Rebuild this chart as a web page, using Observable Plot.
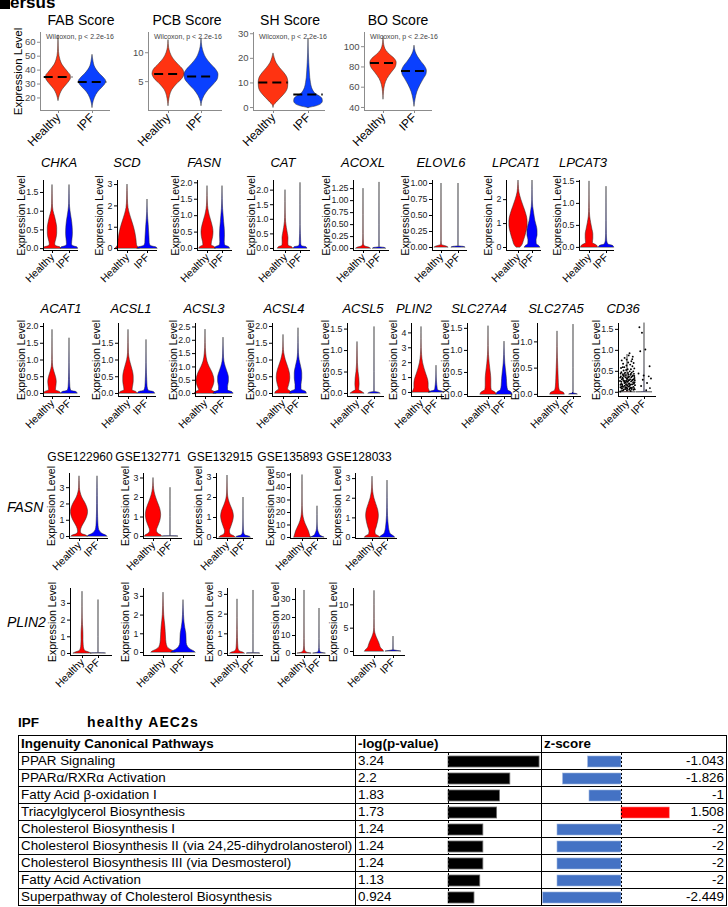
<!DOCTYPE html>
<html><head><meta charset="utf-8">
<script src="https://cdn.jsdelivr.net/npm/d3@7"></script>
<script src="https://cdn.jsdelivr.net/npm/@observablehq/plot@0.6"></script>
<style>
body{margin:0;background:#fff;}
#page{position:relative;width:728px;height:907px;overflow:hidden;font-family:"Liberation Sans",Arial,sans-serif;color:#000;background:#fff;}
.abs{position:absolute;white-space:nowrap;}
.pl{position:absolute;}
.hl{position:absolute;height:1px;background:#000;}
.vl{position:absolute;width:1px;background:#000;}
</style></head>
<body><div id="page"></div>
<script>
// ---------------- DATA ----------------
const groups = ["Healthy", "IPF"];
const wilcoxonLabel = "Wilcoxon, p < 2.2e-16";

// Score row: violin profiles [value, relative half-width] for [Healthy, IPF]
const scoreTitles = ["FAB Score", "PCB Score", "SH Score", "BO Score"];
const FAB = [
  [[18,0],[20,0.04],[23,0.12],[26,0.25],[29,0.45],[32,0.65],[34,0.73],[36,0.72],[38,0.6],[41,0.4],[44,0.22],[47,0.12],[50,0.06],[53,0.03],[57,0.015],[65,0]],
  [[13,0],[16,0.04],[20,0.14],[24,0.32],[27,0.55],[30,0.76],[32,0.8],[34,0.7],[37,0.45],[40,0.25],[43,0.12],[46,0.06],[49,0.02],[51,0]]
];
const PCB = [
  [[0.8,0],[1.5,0.03],[2.5,0.09],[3.5,0.22],[4.5,0.5],[5.5,0.85],[6.3,0.97],[7,0.9],[8,0.58],[9,0.28],[10,0.11],[10.8,0.04],[11.5,0.015],[12.2,0]],
  [[0.8,0],[1.5,0.04],[2.5,0.18],[3.5,0.42],[4.5,0.75],[5.5,1.0],[6.2,1.03],[7,0.9],[8,0.58],[9,0.3],[10,0.14],[11,0.05],[12.5,0]]
];
const SH = [
  [[0,0],[1,0.05],[2,0.18],[4,0.45],[6,0.7],[8,0.83],[10,0.85],[12,0.8],[14,0.62],[16,0.38],[18,0.18],[20,0.07],[22,0]],
  [[-0.2,0],[0.5,0.45],[1.5,0.75],[2.5,0.82],[3.5,0.8],[4.5,0.65],[5.5,0.42],[6.5,0.3],[8,0.2],[10,0.14],[12,0.1],[15,0.07],[18,0.045],[22,0.02],[28,0]]
];
const BO = [
  [[48,0],[55,0.03],[62,0.1],[68,0.25],[74,0.52],[80,0.8],[84,0.85],[88,0.72],[92,0.42],[96,0.18],[100,0.07],[104,0.025],[110,0]],
  [[41,0],[48,0.07],[55,0.18],[62,0.38],[68,0.6],[73,0.78],[76,0.8],[80,0.7],[85,0.45],[90,0.22],[95,0.07],[101,0]]
];
const scoreMedians = [[35, 31.5], [6.3, 5.9], [10.2, 5.3], [84, 76]];
const scoreDomains = [[11, 67], [0, 13.5], [-1.2, 30.5], [37, 114]];
const scoreTicks = [[20,30,40,50,60], [5,10], [0,10,20,30], [40,60,80,100]];

// Gene row 1
const row1Genes = ["CHKA","SCD","FASN","CAT","ACOXL","ELOVL6","LPCAT1","LPCAT3"];
const CHKA = [
  [[0,1],[0.03,0.95],[0.07,0.4],[0.12,0.32],[0.25,0.45],[0.4,0.55],[0.55,0.55],[0.7,0.45],[0.85,0.3],[1.0,0.12],[1.2,0.04],[1.45,0.02],[1.7,0]],
  [[0,1],[0.03,0.95],[0.07,0.4],[0.12,0.3],[0.25,0.35],[0.4,0.4],[0.55,0.38],[0.7,0.32],[0.85,0.22],[1.0,0.12],[1.2,0.04],[1.45,0.02],[1.7,0]]
];
const SCD = [
  [[0,1.2],[0.05,1.1],[0.15,0.95],[0.4,0.9],[0.7,0.8],[1.0,0.65],[1.3,0.45],[1.6,0.25],[1.9,0.1],[2.3,0.04],[2.7,0.02],[3.0,0]],
  [[0,1.0],[0.05,0.9],[0.12,0.35],[0.25,0.22],[0.5,0.2],[0.8,0.16],[1.1,0.12],[1.4,0.07],[1.7,0.03],[2.3,0]]
];
const FASN = [
  [[0,1.1],[0.04,1.0],[0.1,0.55],[0.2,0.6],[0.35,0.75],[0.5,0.8],[0.65,0.72],[0.8,0.55],[1.0,0.3],[1.2,0.12],[1.4,0.05],[1.6,0.02],[1.9,0]],
  [[0,1.0],[0.04,0.9],[0.1,0.35],[0.2,0.3],[0.4,0.33],[0.6,0.3],[0.8,0.22],[1.0,0.15],[1.2,0.08],[1.5,0.03],[1.9,0]]
];
const CAT = [
  [[0,1.0],[0.04,0.9],[0.1,0.4],[0.2,0.38],[0.35,0.4],[0.5,0.32],[0.7,0.18],[0.9,0.08],[1.2,0.03],[1.6,0.01],[2.0,0]],
  [[0,0.9],[0.04,0.8],[0.08,0.2],[0.15,0.1],[0.3,0.08],[0.5,0.05],[0.8,0.02],[1.5,0.01],[2.25,0]]
];
const ACOXL = [
  [[0,0.9],[0.02,0.7],[0.05,0.15],[0.1,0.05],[0.3,0.02],[0.7,0.01],[1.25,0]],
  [[0,0.8],[0.015,0.6],[0.03,0.02],[0.5,0.01],[1.38,0]]
];
const ELOVL6 = [
  [[0,0.8],[0.015,0.6],[0.04,0.05],[0.1,0.02],[0.5,0.01],[1.0,0]],
  [[0,0.8],[0.01,0.6],[0.02,0.01],[0.5,0.005],[1.0,0]]
];
const LPCAT1 = [
  [[0,0.3],[0.05,0.45],[0.3,0.8],[0.6,1.1],[0.9,1.3],[1.1,1.3],[1.4,1.1],[1.7,0.75],[2.0,0.4],[2.3,0.13],[2.6,0.04],[2.8,0]],
  [[0,1.1],[0.05,1.0],[0.15,0.6],[0.3,0.58],[0.5,0.72],[0.7,0.72],[0.9,0.6],[1.1,0.42],[1.4,0.25],[1.7,0.1],[2.0,0.04],[2.4,0.02],[2.8,0]]
];
const LPCAT3 = [
  [[0,1.0],[0.04,0.9],[0.1,0.4],[0.2,0.45],[0.3,0.45],[0.4,0.35],[0.55,0.2],[0.7,0.08],[0.9,0.03],[1.2,0.01],[1.5,0]],
  [[0,0.9],[0.03,0.8],[0.07,0.2],[0.15,0.08],[0.3,0.04],[0.6,0.02],[1.0,0.01],[1.38,0]]
];
const row1Domains = [[-0.05,1.82],[-0.09,3.19],[-0.06,2.07],[-0.07,2.33],[-0.04,1.42],[-0.047,1.047],[-0.125,2.8],[-0.07,1.52]];
const row1Ticks = [[0,0.5,1,1.5],[0,1,2,3],[0,0.5,1,1.5,2],[0,0.5,1,1.5,2],[0,0.25,0.5,0.75,1,1.25],[0,0.25,0.5,0.75,1],[0,1,2],[0,0.5,1,1.5]];

// Gene row 2
const row2Genes = ["ACAT1","ACSL1","ACSL3","ACSL4","ACSL5","PLIN2","SLC27A4","SLC27A5","CD36"];
const ACAT1 = [
  [[0,1.0],[0.04,0.9],[0.1,0.4],[0.2,0.45],[0.35,0.5],[0.5,0.4],[0.65,0.22],[0.8,0.08],[1.0,0.03],[1.4,0.01],[1.9,0]],
  [[0,0.95],[0.04,0.85],[0.08,0.2],[0.2,0.1],[0.4,0.06],[0.6,0.04],[0.9,0.02],[1.65,0]]
];
const ACSL1 = [
  [[0,1.0],[0.04,0.9],[0.1,0.45],[0.2,0.5],[0.35,0.58],[0.5,0.58],[0.65,0.5],[0.8,0.35],[1.0,0.15],[1.2,0.05],[1.5,0.02],[1.9,0]],
  [[0,0.95],[0.04,0.85],[0.08,0.25],[0.2,0.12],[0.4,0.08],[0.6,0.05],[0.9,0.02],[1.6,0]]
];
const ACSL3 = [
  [[0,1.2],[0.05,1.1],[0.12,0.7],[0.25,0.85],[0.45,1.0],[0.6,0.95],[0.8,0.75],[1.0,0.45],[1.2,0.22],[1.5,0.08],[1.9,0.02],[2.4,0]],
  [[0,1.1],[0.05,1.0],[0.12,0.5],[0.25,0.5],[0.45,0.6],[0.6,0.6],[0.8,0.45],[1.0,0.25],[1.2,0.1],[1.5,0.04],[2.1,0]]
];
const ACSL4 = [
  [[0,1.1],[0.05,1.0],[0.12,0.6],[0.25,0.75],[0.45,0.9],[0.6,0.85],[0.8,0.6],[1.0,0.3],[1.2,0.1],[1.4,0.03],[1.75,0]],
  [[0,1.1],[0.05,1.0],[0.12,0.4],[0.25,0.4],[0.45,0.5],[0.6,0.5],[0.8,0.35],[1.0,0.15],[1.2,0.06],[1.5,0.02],[1.95,0]]
];
const ACSL5 = [
  [[0,0.8],[0.03,0.6],[0.08,0.2],[0.2,0.25],[0.35,0.22],[0.5,0.12],[0.7,0.05],[1.0,0.02],[1.2,0]],
  [[0,0.7],[0.02,0.5],[0.04,0.02],[0.5,0.01],[1.55,0]]
];
const PLIN2 = [
  [[0,1.2],[0.1,1.1],[0.3,0.95],[0.6,0.95],[0.9,0.85],[1.2,0.65],[1.6,0.4],[2.0,0.2],[2.5,0.08],[3.0,0.03],[3.6,0.01],[4.4,0]],
  [[0,1.0],[0.05,0.8],[0.15,0.2],[0.3,0.15],[0.5,0.1],[0.8,0.05],[1.2,0.02],[1.8,0]]
];
const SLC27A4 = [
  [[0,1.0],[0.04,0.9],[0.1,0.4],[0.2,0.35],[0.35,0.35],[0.5,0.28],[0.7,0.15],[0.9,0.06],[1.1,0.02],[1.55,0]],
  [[0,1.0],[0.04,0.9],[0.1,0.45],[0.2,0.35],[0.35,0.3],[0.5,0.22],[0.7,0.1],[0.9,0.04],[1.2,0]]
];
const SLC27A5 = [
  [[0,0.9],[0.03,0.8],[0.07,0.3],[0.15,0.2],[0.3,0.15],[0.5,0.1],[0.7,0.05],[0.9,0.02],[1.2,0]],
  [[0,0.5],[0.01,0.3],[0.02,0.01],[0.5,0.005],[1.33,0]]
];
const CD36 = [
  [[0,0.95],[0.005,0.02],[0.1,0.01],[0.9,0]],
  [[0,0.9],[0.005,0.02],[0.1,0.01],[1.65,0]]
];
// CD36 jittered cells: [offset from group, expression]
const cd36HealthyCells = [
[-0.41,0.12],[-0.33,0.31],[-0.25,0.05],[-0.18,0.22],[-0.1,0.41],[-0.02,0.17],[0.06,0.28],[0.14,0.09],[0.22,0.36],[0.3,0.19],[0.38,0.44],[0.43,0.07],
[-0.44,0.27],[-0.36,0.48],[-0.29,0.15],[-0.21,0.39],[-0.13,0.08],[-0.05,0.33],[0.03,0.46],[0.11,0.21],[0.19,0.03],[0.27,0.29],[0.35,0.13],[0.41,0.34],
[-0.39,0.38],[-0.31,0.19],[-0.23,0.52],[-0.15,0.27],[-0.07,0.11],[0.01,0.55],[0.09,0.37],[0.17,0.18],[0.25,0.47],[0.33,0.24],[0.4,0.57],[-0.42,0.02],
[-0.35,0.09],[-0.27,0.43],[-0.19,0.6],[-0.11,0.23],[-0.03,0.05],[0.05,0.14],[0.13,0.5],[0.21,0.26],[0.29,0.62],[0.37,0.31],[0.44,0.17],[-0.38,0.58],
[-0.3,0.35],[-0.22,0.13],[-0.14,0.47],[-0.06,0.64],[0.02,0.25],[0.1,0.06],[0.18,0.42],[0.26,0.11],[0.34,0.5],[0.42,0.24],[-0.4,0.45],[-0.32,0.04],
[-0.24,0.29],[-0.16,0.16],[-0.08,0.53],[0,0.32],[0.08,0.2],[0.16,0.66],[0.24,0.08],[0.32,0.4],[0.39,0.1],[-0.37,0.2],[-0.26,0.68],[-0.12,0.36],
[0.04,0.71],[0.2,0.55],[0.36,0.7],[-0.34,0.76],[-0.17,0.82],[0.07,0.88],[0.28,0.79],[0.12,0.93],[-0.28,0.6],[0.23,0.74],[-0.05,0.78],[0.31,0.85],
[-0.2,0.26],[0.15,0.31],[-0.43,0.35],[0.38,0.21],[-0.09,0.19],[0.27,0.38],[-0.33,0.14],[0.06,0.42],
[-0.36,0.25],[-0.27,0.33],[-0.17,0.44],[-0.07,0.27],[0.04,0.36],[0.12,0.15],[0.2,0.44],[0.31,0.3],[0.4,0.39],[-0.41,0.18],
[-0.31,0.1],[-0.21,0.07],[-0.12,0.12],[-0.01,0.09],[0.09,0.29],[0.17,0.11],[0.26,0.19],[0.35,0.06],[0.43,0.29],[-0.25,0.4]
];
const cd36IPFCells = [[-0.3,1.55],[-0.15,1.42],[0.05,1.02],[-0.25,0.98],[0.3,0.62],[-0.35,0.45],[0.25,0.38],[0.38,0.33],[-0.1,0.3],[0.15,0.22],[-0.2,0.15],[0.32,0.1],[-0.05,0.4],[0.1,0.05]];
const row2Domains = [[-0.09,2.09],[-0.09,2.09],[-0.11,2.63],[-0.09,2.09],[-0.07,1.63],[-0.27,4.63],[-0.045,1.61],[-0.04,1.35],[-0.1,1.64]];
const row2Ticks = [[0,0.5,1,1.5,2],[0,0.5,1,1.5],[0,0.5,1,1.5,2,2.5],[0,0.5,1,1.5,2],[0,0.5,1,1.5],[0,1,2,3,4],[0,0.5,1,1.5],[0,0.5,1],[0,0.5,1,1.5]];

// Datasets rows
const datasets = ["GSE122960","GSE132771","GSE132915","GSE135893","GSE128033"];
const datasetGenes = ["FASN","PLIN2"];
const FASN_GSE122960 = [
  [[0,0.9],[0.05,0.8],[0.15,0.3],[0.3,0.15],[0.6,0.3],[0.9,0.6],[1.2,0.85],[1.5,0.95],[1.8,0.85],[2.1,0.6],[2.4,0.3],[2.7,0.12],[3.0,0.04],[3.4,0.02],[3.7,0]],
  [[0,1.1],[0.05,1.0],[0.15,0.6],[0.3,0.3],[0.5,0.15],[0.8,0.1],[1.2,0.07],[1.6,0.05],[2.0,0.04],[2.5,0.03],[3.0,0.02],[3.7,0]]
];
const FASN_GSE132771 = [
  [[0,1.0],[0.05,0.95],[0.15,0.55],[0.3,0.4],[0.5,0.55],[0.8,0.8],[1.1,0.9],[1.4,0.8],[1.7,0.55],[2.0,0.3],[2.3,0.12],[2.6,0.04],[3.0,0]],
  [[0,0.9],[0.01,0.5],[0.02,0.01],[1.0,0.005],[2.5,0]]
];
const FASN_GSE132915 = [
  [[0,1.0],[0.05,0.9],[0.15,0.4],[0.3,0.3],[0.5,0.45],[0.8,0.7],[1.05,0.8],[1.3,0.7],[1.6,0.4],[1.9,0.15],[2.2,0.05],[2.6,0.02],[3.1,0]],
  [[0,0.9],[0.04,0.8],[0.1,0.25],[0.2,0.1],[0.4,0.05],[0.8,0.02],[1.2,0.01],[2.0,0]]
];
const FASN_GSE135893 = [
  [[0,1.1],[1,1.05],[3,0.95],[5,0.85],[7,0.7],[9,0.55],[11,0.4],[13,0.28],[16,0.15],[20,0.07],[25,0.03],[32,0.015],[40,0.01],[50,0]],
  [[0,0.9],[0.5,0.7],[1.5,0.4],[3,0.25],[5,0.12],[8,0.05],[12,0.02],[18,0.01],[25,0]]
];
const FASN_GSE128033 = [
  [[0,1.0],[0.05,0.9],[0.15,0.45],[0.3,0.4],[0.5,0.55],[0.8,0.75],[1.1,0.85],[1.4,0.75],[1.7,0.5],[2.0,0.25],[2.3,0.1],[2.7,0.03],[3.1,0]],
  [[0,1.0],[0.05,0.9],[0.15,0.5],[0.3,0.3],[0.5,0.2],[0.8,0.12],[1.1,0.07],[1.5,0.04],[2.0,0.02],[2.9,0]]
];
const PLIN2_GSE122960 = [
  [[0,1.1],[0.05,0.9],[0.15,0.35],[0.3,0.2],[0.5,0.15],[0.8,0.12],[1.1,0.12],[1.4,0.1],[1.7,0.06],[2.1,0.03],[2.8,0.01],[3.7,0]],
  [[0,0.9],[0.01,0.6],[0.02,0.01],[1.0,0.005],[3.2,0]]
];
const PLIN2_GSE132771 = [
  [[0,1.2],[0.05,1.1],[0.15,0.7],[0.3,0.4],[0.5,0.3],[0.8,0.25],[1.1,0.22],[1.4,0.18],[1.7,0.12],[2.0,0.07],[2.5,0.03],[3.2,0]],
  [[0,1.2],[0.05,1.1],[0.15,0.75],[0.3,0.45],[0.5,0.32],[0.8,0.3],[1.0,0.28],[1.3,0.18],[1.6,0.1],[2.0,0.05],[2.4,0.02],[2.8,0]]
];
const PLIN2_GSE132915 = [
  [[0,0.9],[0.05,0.7],[0.12,0.25],[0.25,0.12],[0.5,0.08],[0.8,0.05],[1.2,0.03],[1.8,0.01],[2.75,0]],
  [[0,0.8],[0.01,0.6],[0.02,0.01],[1.0,0.005],[3.2,0]]
];
const PLIN2_GSE135893 = [
  [[0,0.9],[0.3,0.5],[1,0.2],[2,0.08],[4,0.04],[8,0.02],[15,0.01],[35,0]],
  [[0,0.8],[0.3,0.4],[1,0.1],[3,0.03],[8,0.01],[25,0]]
];
const PLIN2_GSE128033 = [
  [[0,1.0],[0.3,0.9],[0.7,0.7],[1.2,0.6],[1.8,0.5],[2.5,0.35],[3.2,0.2],[4,0.08],[5,0.03],[7,0.015],[10,0.008],[13,0]],
  [[0,0.8],[0.1,0.5],[0.3,0.02],[1.5,0.01],[3.2,0]]
];
const fasnDomains = [[-0.12,3.87],[-0.1,3.23],[-0.05,3.2],[-0.81,51.2],[-0.05,3.26]];
const fasnTicks = [[0,1,2,3],[0,1,2,3],[0,1,2,3],[0,10,20,30,40,50],[0,1,2,3]];
const plin2Domains = [[-0.12,3.89],[-0.16,3.42],[-0.1,3.3],[-1.1,36.1],[-0.86,13.5]];
const plin2Ticks = [[0,1,2,3],[0,1,2,3],[0,1,2,3],[0,10,20,30],[0,5,10]];

// Table (IPA)
const tableTitle = ["IPF", "healthy AEC2s"];
const tableHeaders = ["Ingenuity Canonical Pathways", "-log(p-value)", "z-score"];
const pathways = ["PPAR Signaling","PPARα/RXRα Activation","Fatty Acid β-oxidation I","Triacylglycerol Biosynthesis","Cholesterol Biosynthesis I","Cholesterol Biosynthesis II (via 24,25-dihydrolanosterol)","Cholesterol Biosynthesis III (via Desmosterol)","Fatty Acid Activation","Superpathway of Cholesterol Biosynthesis"];
const logP = [3.24, 2.2, 1.83, 1.73, 1.24, 1.24, 1.24, 1.13, 0.924];
const zScores = [-1.043, -1.826, -1, 1.508, -2, -2, -2, -2, -2.449];

// ---------------- LAYOUT ----------------
const page = document.getElementById("page");
const FONT = "Liberation Sans, Arial, sans-serif";

function addText(str, x, baseline, o = {}) {
  const size = o.size || 12;
  const d = document.createElement("div");
  d.className = "abs";
  d.textContent = str;
  Object.assign(d.style, {
    left: x + "px", top: (baseline - 0.8465 * size) + "px", fontSize: size + "px", lineHeight: size + "px",
    fontStyle: o.italic ? "italic" : "normal", fontWeight: o.bold ? "bold" : "normal", color: o.color || "#000"
  });
  if (o.spacing) d.style.letterSpacing = o.spacing + "px";
  if (o.anchor === "middle") d.style.transform = "translateX(-50%)";
  if (o.anchor === "end") d.style.transform = "translateX(-100%)";
  page.appendChild(d);
  return d;
}

function decimals(ticks) {
  return d3.max(ticks, t => { const s = String(t); const i = s.indexOf("."); return i < 0 ? 0 : s.length - i - 1; });
}

function violinPanel(cfg) {
  const [ax, c1, c2, end] = cfg.geom;
  const [top, bottom] = cfg.yr;
  const k = c2 - c1;
  const xdom = [1 - (c1 - ax) / k, 2 + (end - c2) / k];
  const ml = 40, mr = 6, mt = 6, mb = 50;
  const score = cfg.kind === "score";
  const axisColor = score ? "#8c8c8c" : "#000";
  const tickText = score ? "#4d4d4d" : "#1a1a1a";
  const tickFont = score ? 9.5 : 8.8;
  const fmt = d3.format(`.${decimals(cfg.ticks)}f`);
  // label offset from the widest tick label
  const widest = d3.max(cfg.ticks, t => { const s = fmt(t); return (s.replace(".", "").length * 0.556 + (s.includes(".") ? 0.278 : 0)) * tickFont; });
  const labelOff = score ? 22 : Math.max(18, 5 + widest + 5);
  const marks = [];
  cfg.prof.forEach((p, i) => {
    const c = i + 1;
    const rows = p.map(([v, w]) => ({v, w}));
    marks.push(Plot.areaX(rows, {
      y: "v", x1: d => c - d.w * 0.5, x2: d => c + d.w * 0.5,
      fill: cfg.colors[i], stroke: "#262626", strokeWidth: 0.5, curve: "monotone-y"
    }));
  });
  if (cfg.points) {
    cfg.points.forEach((pts, i) => {
      marks.push(Plot.dot(pts, {x: d => i + 1 + d[0], y: d => d[1], r: 0.95, fill: "#000"}));
    });
  }
  if (cfg.medians) {
    const med = cfg.medians.map((m, i) => ({m, c: i + 1}));
    marks.push(Plot.ruleY(med, {y: "m", x1: d => d.c - 0.42, x2: d => d.c + 0.42, stroke: "#000", strokeWidth: 2, strokeDasharray: "9,5"}));
  }
  marks.push(Plot.ruleX([xdom[0]], {y1: cfg.dom[0], y2: cfg.dom[1], stroke: axisColor, strokeWidth: 1}));
  marks.push(Plot.ruleY([cfg.dom[0]], {x1: xdom[0], x2: xdom[1], stroke: axisColor, strokeWidth: 1}));
  marks.push(Plot.axisY({ticks: cfg.ticks, tickFormat: fmt, tickSize: 3, tickPadding: 2, label: null,
    stroke: axisColor, fill: tickText, fontSize: tickFont}));
  marks.push(Plot.axisX({ticks: [1, 2], tickFormat: d => groups[d - 1], tickRotate: -45, tickSize: 3, tickPadding: 2,
    label: null, stroke: axisColor, fill: "#000", fontSize: score ? 12 : 10.5}));
  if (cfg.ylabel) {
    marks.push(Plot.text(["Expression Level"], {frameAnchor: "left", textAnchor: "middle", rotate: -90, dx: -labelOff,
      fontSize: score ? 11.5 : 10.5, fill: "#000"}));
  }
  const svg = Plot.plot({
    width: end - ax + ml + mr, height: bottom - top + mt + mb,
    marginLeft: ml, marginRight: mr, marginTop: mt, marginBottom: mb,
    x: {domain: xdom}, y: {domain: cfg.dom},
    style: {fontFamily: FONT, fontSize: "9.5px", background: "transparent", overflow: "visible"},
    marks
  });
  const wrap = document.createElement("div");
  wrap.className = "pl";
  wrap.style.left = (ax - ml) + "px";
  wrap.style.top = (top - mt) + "px";
  wrap.appendChild(svg);
  page.appendChild(wrap);
}

// header fragment
const blk = document.createElement("div");
Object.assign(blk.style, {position: "absolute", left: "0px", top: "0px", width: "10px", height: "9px", background: "#000"});
page.appendChild(blk);
addText("ersus", 10, 8, {size: 17, bold: true});

// --- Score row
const scoreGeom = [[40,58,92,110],[148,168,201,222],[253,273,308,325],[364,383,414,432]];
const scoreTitleX = [81, 187, 290, 398];
const scoreProf = [FAB, PCB, SH, BO];
scoreTitles.forEach((t, i) => {
  addText(t, scoreTitleX[i], 25, {size: 14, anchor: "middle"});
  violinPanel({geom: scoreGeom[i], yr: [32, 110], dom: scoreDomains[i], ticks: scoreTicks[i], prof: scoreProf[i],
    colors: ["#FF3311", "#0A40FF"], medians: scoreMedians[i], kind: "score", ylabel: i === 0});
  addText(wilcoxonLabel, scoreGeom[i][0] + 6, 38.5, {size: 7, color: "#444"});
});

// --- Gene row 1
const row1Geom = [[43,52,69,78],[117,127,147,157],[197,207,222,232],[273,285,300,310],[353,363,379,389],[432,441,458,467],[506,518,532,541],[579,589,606,614]];
const row1TitleX = [59,127,204,283,363,441,516,583];
const row1Prof = [CHKA, SCD, FASN, CAT, ACOXL, ELOVL6, LPCAT1, LPCAT3];
row1Genes.forEach((g, i) => {
  addText(g, row1TitleX[i], 167, {size: 13, italic: true, anchor: "middle"});
  violinPanel({geom: row1Geom[i], yr: [180, 250], dom: row1Domains[i], ticks: row1Ticks[i], prof: row1Prof[i],
    colors: ["#FF0000", "#0000FF"], kind: "gene", ylabel: true});
});

// --- Gene row 2
const row2Geom = [[43,52,69,80],[118,128,146,156],[195,205,223,232],[272,283,298,308],[347,357,374,384],[411,421,436,444],[467,488,504,511],[537,557,573,581],[618,627,644,656]];
const row2TitleX = [61,131,204,284,363,414,479,556,623];
const row2Prof = [ACAT1, ACSL1, ACSL3, ACSL4, ACSL5, PLIN2, SLC27A4, SLC27A5, CD36];
row2Genes.forEach((g, i) => {
  addText(g, row2TitleX[i], 313, {size: 13, italic: true, anchor: "middle"});
  violinPanel({geom: row2Geom[i], yr: [323, 396], dom: row2Domains[i], ticks: row2Ticks[i], prof: row2Prof[i],
    colors: ["#FF0000", "#0000FF"], kind: "gene", ylabel: true,
    points: g === "CD36" ? [cd36HealthyCells, cd36IPFCells] : null});
});

// --- Dataset rows
const dsTitleX = [80, 148, 220, 290, 359];
datasets.forEach((d, i) => addText(d, dsTitleX[i], 461, {size: 12, anchor: "middle"}));
addText(datasetGenes[0], 7, 512, {size: 14, italic: true});
addText(datasetGenes[1], 7, 627, {size: 14, italic: true});
const fasnGeom = [[69,79,97,108],[143,153,170,182],[216,227,243,253],[290,302,317,327],[355,372,387,397]];
const plinGeom = [[70,82,98,112],[143,163,183,195],[227,237,253,263],[295,304,319,330],[353,374,393,405]];
const fasnProf = [FASN_GSE122960, FASN_GSE132771, FASN_GSE132915, FASN_GSE135893, FASN_GSE128033];
const plinProf = [PLIN2_GSE122960, PLIN2_GSE132771, PLIN2_GSE132915, PLIN2_GSE135893, PLIN2_GSE128033];
datasets.forEach((d, i) => {
  violinPanel({geom: fasnGeom[i], yr: [473, 538], dom: fasnDomains[i], ticks: fasnTicks[i], prof: fasnProf[i],
    colors: ["#FF0000", "#0000FF"], kind: "gene", ylabel: true});
  violinPanel({geom: plinGeom[i], yr: [588, 655], dom: plin2Domains[i], ticks: plin2Ticks[i], prof: plinProf[i],
    colors: ["#FF0000", "#0000FF"], kind: "gene", ylabel: true});
});

// --- Table
addText(tableTitle[0], 18, 727, {size: 13.5, bold: true});
addText(tableTitle[1], 87, 727, {size: 14, bold: true, spacing: 1.1});
const T = {top: 735, row: 17, left: 18, right: 726, cols: [18, 355, 448, 541, 621, 726]};
const nRows = pathways.length + 1;
for (let r = 0; r <= nRows; r++) {
  const h = document.createElement("div");
  h.className = "hl";
  Object.assign(h.style, {left: T.left + "px", top: (T.top + r * T.row) + "px", width: (T.right - T.left + 1) + "px"});
  page.appendChild(h);
}
[T.cols[0], T.cols[1], T.cols[3], T.cols[5]].forEach(x => {
  const v = document.createElement("div");
  v.className = "vl";
  Object.assign(v.style, {left: x + "px", top: T.top + "px", height: (nRows * T.row + 1) + "px"});
  page.appendChild(v);
});
const TF = 13.4;
addText(tableHeaders[0], T.cols[0] + 3, T.top + 13, {size: TF, bold: true});
addText(tableHeaders[1], T.cols[1] + 3, T.top + 13, {size: TF, bold: true});
addText(tableHeaders[2], T.cols[3] + 3, T.top + 13, {size: TF, bold: true});
pathways.forEach((p, i) => {
  const base = T.top + (i + 1) * T.row + 13.5;
  addText(p, T.cols[0] + 3, base, {size: TF});
  addText(String(logP[i]), T.cols[1] + 3, base, {size: TF});
  addText(String(zScores[i]), T.cols[5] - 2, base, {size: TF, anchor: "end"});
});

const tableRows = pathways.map((name, i) => ({name, logP: logP[i], z: zScores[i]}));
const bodyTop = T.top + T.row, bodyH = pathways.length * T.row;
function overlay(svg, left) {
  const w = document.createElement("div");
  w.className = "pl";
  w.style.left = left + "px";
  w.style.top = (bodyTop + 1) + "px";
  w.appendChild(svg);
  page.appendChild(w);
}
const ppx = 28.1; // px per -log(p) unit
overlay(Plot.plot({
  width: (T.cols[3] - T.cols[2]) + 2, height: bodyH, marginLeft: 2, marginRight: 0, marginTop: 0, marginBottom: 0,
  x: {domain: [0, (T.cols[3] - T.cols[2]) / ppx], axis: null},
  y: {domain: pathways, axis: null, paddingInner: 0.36, paddingOuter: 0.18},
  style: {background: "transparent", overflow: "visible"},
  marks: [
    Plot.barX(tableRows, {x: "logP", y: "name", fill: "#000", stroke: "#6e6e6e", strokeWidth: 0.8}),
    Plot.ruleX([0], {stroke: "#000", strokeDasharray: "2,2"})
  ]
}), T.cols[2] - 2);
const zpx = 32; // px per z unit
overlay(Plot.plot({
  width: (T.cols[5] - T.cols[3]) + 2, height: bodyH, marginLeft: 2, marginRight: 0, marginTop: 0, marginBottom: 0,
  x: {domain: [-(T.cols[4] - T.cols[3]) / zpx, (T.cols[5] - T.cols[4]) / zpx], axis: null},
  y: {domain: pathways, axis: null, paddingInner: 0.36, paddingOuter: 0.18},
  style: {background: "transparent", overflow: "visible"},
  marks: [
    Plot.barX(tableRows, {filter: d => d.z < 0, x: "z", y: "name", fill: "#4472C4", stroke: "#9db4de", strokeWidth: 0.6}),
    Plot.barX(tableRows, {filter: d => d.z >= 0, x: "z", y: "name", fill: "#FF0000", stroke: "#ff8080", strokeWidth: 0.6}),
    Plot.ruleX([0], {stroke: "#000", strokeDasharray: "2,2"})
  ]
}), T.cols[3] - 2);
</script>
</body></html>
